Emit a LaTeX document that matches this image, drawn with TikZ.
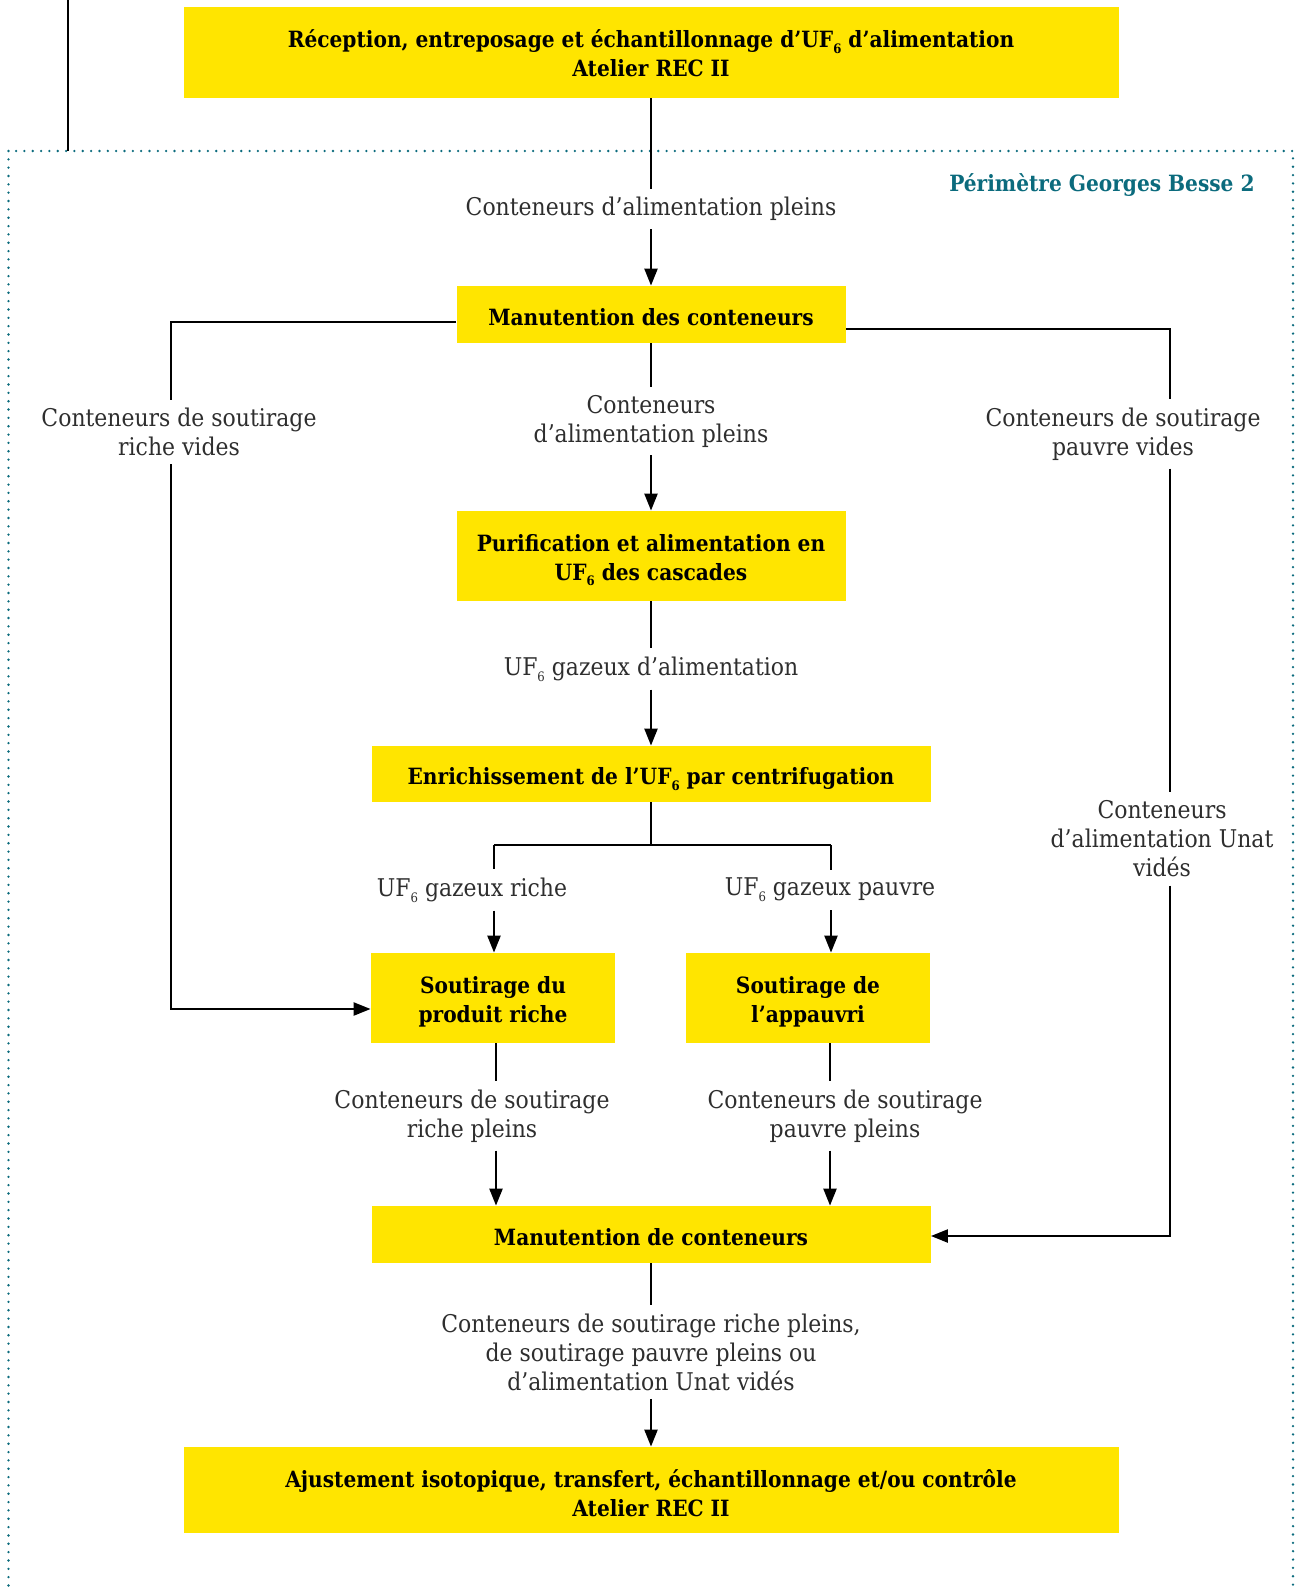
\documentclass[tikz,border=0pt]{standalone}
\usepackage{fontspec}
\setmainfont{DejaVu Serif Condensed}[BoldFont={DejaVu Serif Condensed Bold}]
\usetikzlibrary{arrows.meta,positioning}
\definecolor{recyellow}{HTML}{FFE500}
\definecolor{gbteal}{HTML}{0B6B7D}
\definecolor{lblgray}{HTML}{2E2E2E}
\newcommand{\ufsix}{UF\raisebox{-0.45ex}{\fontsize{6.5}{6.5}\selectfont 6}}
\tikzset{
  procbox/.style={fill=recyellow,align=center,inner sep=0pt,font=\fontsize{11.2}{14.5}\selectfont\bfseries,
    execute at begin node={\rule{0pt}{13.5pt}},execute at end node={\rule[-2.5pt]{0pt}{0pt}}},
  twoline/.style={text height=#1,text depth=0pt},
  twoline/.default=24.5pt,
  flowlbl/.style={align=center,text=lblgray,inner xsep=2pt,inner ysep=4pt,font=\fontsize{12.2}{14.5}\selectfont},
  link/.style={line width=1.15pt},
  flow/.style={link,-{Triangle[length=8.5pt,width=6.5pt]}},
  perimeter/.style={gbteal,line width=1.3pt,line cap=round,dash pattern=on 0pt off 4.17pt},
}

\begin{document}
\begin{tikzpicture}[x=0.5pt,y=-0.5pt]
  \useasboundingbox (0,0) rectangle (1298,1589);
  % perimetre (bord bas hors cadre)
  \begin{scope}
    \clip (0,0) rectangle (1298,1589);
    \draw[perimeter] (8.5,151) rectangle (1293,1660);
  \end{scope}
  \node[gbteal,anchor=east,inner sep=0pt,font=\fontsize{11.2}{13}\selectfont\bfseries] (perim) at (1255,185) {Périmètre Georges Besse 2};
  \coordinate (feedtop) at (68,0);
  \coordinate (feedbot) at (68,151);
  \draw[link] (feedtop) -- (feedbot);

  % boites
  \node[procbox,twoline,minimum width=467.5pt,minimum height=45.5pt] (rec) at (651,52.5)
    {Réception, entreposage et échantillonnage d’\ufsix{} d’alimentation\\Atelier REC II};
  \node[procbox,minimum width=194.5pt,minimum height=28.5pt] (man1) at (651,314.5) {Manutention des conteneurs};
  \node[procbox,twoline,minimum width=194.5pt,minimum height=45pt] (pur) at (651,556)
    {Purification et alimentation en\\\ufsix{} des cascades};
  \node[procbox,minimum width=279.5pt,minimum height=28pt] (enr) at (651,774) {Enrichissement de l’\ufsix{} par centrifugation};
  \node[procbox,twoline,minimum width=122pt,minimum height=45pt] (sr) at (493,998) {Soutirage du\\produit riche};
  \node[procbox,twoline,minimum width=122pt,minimum height=45pt] (sp) at (808,998) {Soutirage de\\l’appauvri};
  \node[procbox,minimum width=279.5pt,minimum height=28.5pt] (man2) at (651,1234.5) {Manutention de conteneurs};
  \node[procbox,twoline=26.7pt,minimum width=467.5pt,minimum height=43pt] (aju) at (651,1490)
    {Ajustement isotopique, transfert, échantillonnage et/ou contrôle\\Atelier REC II};

  % textes des flux
  \node[flowlbl] (l1) at (651,209) {Conteneurs d’alimentation pleins};
  \node[flowlbl] (l2) at (651,421) {Conteneurs\\d’alimentation pleins};
  \node[flowlbl] (l3) at (651,669) {\ufsix{} gazeux d’alimentation};
  \node[flowlbl] (lR) at (179,432) {Conteneurs de soutirage\\riche vides};
  \node[flowlbl] (lP) at (1123,434) {Conteneurs de soutirage\\pauvre vides};
  \node[flowlbl] (lU) at (1162,839) {Conteneurs\\d’alimentation Unat\\vidés};
  \node[flowlbl] (lgr) at (472,890) {\ufsix{} gazeux riche};
  \node[flowlbl] (lgp) at (830,890) {\ufsix{} gazeux pauvre};
  \node[flowlbl] (lsr) at (472,1116) {Conteneurs de soutirage\\riche pleins};
  \node[flowlbl] (lsp) at (845,1116) {Conteneurs de soutirage\\pauvre pleins};
  \node[flowlbl] (lall) at (651,1352) {Conteneurs de soutirage riche pleins,\\de soutirage pauvre pleins ou\\d’alimentation Unat vidés};

  % points de passage
  \coordinate (ltop) at (171,322);
  \coordinate (lbot) at (171,1009);
  \coordinate (rtop) at (1170,329);
  \coordinate (rbot) at (1170,1236);
  \coordinate (brc) at (651,845);
  \coordinate (brL) at (494,845);
  \coordinate (brR) at (831,845);
  \coordinate (xsr) at (496,0);
  \coordinate (xsp) at (830,0);

  % axe central
  \draw[link] (rec.south) -- (l1.north);
  \draw[flow] (l1.south) -- (man1.north);
  \draw[link] (man1.south) -- (l2.north);
  \draw[flow] (l2.south) -- (pur.north);
  \draw[link] (pur.south) -- (l3.north);
  \draw[flow] (l3.south) -- (enr.north);
  \draw[link] (enr.south) -- (brc);
  \draw[link] (brL) -- (brR);
  \draw[link] (brL) -- (brL |- lgr.north);
  \draw[flow] (brL |- lgr.south) -- (brL |- sr.north);
  \draw[link] (brR) -- (brR |- lgp.north);
  \draw[flow] (brR |- lgp.south) -- (brR |- sp.north);
  \draw[link] (xsr |- sr.south) -- (xsr |- lsr.north);
  \draw[flow] (xsr |- lsr.south) -- (xsr |- man2.north);
  \draw[link] (xsp |- sp.south) -- (xsp |- lsp.north);
  \draw[flow] (xsp |- lsp.south) -- (xsp |- man2.north);
  \draw[link] (man2.south) -- (lall.north);
  \draw[flow] (lall.south) -- (aju.north);

  % retours gauche et droite
  \draw[link] (man1.west |- ltop) -- (ltop) -- (ltop |- lR.north);
  \draw[flow] (ltop |- lR.south) -- (lbot) -- (sr.west |- lbot);
  \draw[link] (man1.east |- rtop) -- (rtop) -- (rtop |- lP.north);
  \draw[link] (rtop |- lP.south) -- (rtop |- lU.north);
  \draw[flow] (rtop |- lU.south) -- (rbot) -- (man2.east |- rbot);
\end{tikzpicture}
\end{document}
